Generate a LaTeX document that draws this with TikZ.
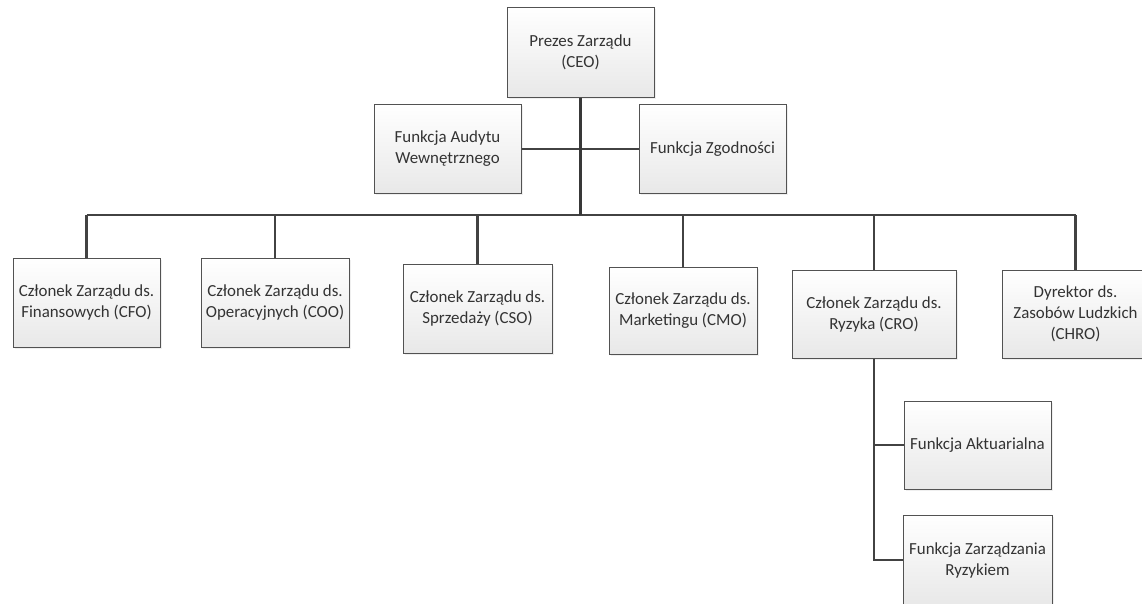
\documentclass[tikz,border=0pt]{standalone}
\usepackage{fontspec}
\setmainfont{Carlito}
\usetikzlibrary{shadows}
\begin{document}
\begin{tikzpicture}[x=1pt,y=-1pt,
  orgbox/.style={rectangle, draw=black!68, line width=1pt,
    top color=white, bottom color=black!9,
    drop shadow={opacity=0.12, shadow xshift=1.5pt, shadow yshift=-1.5pt},
    align=center, text=black!80, inner sep=2pt,
    font=\fontsize{16.9}{21}\selectfont},
  link/.style={draw=black!74, line width=2.3pt},
  trunk/.style={draw=black!78, line width=3pt}]
\useasboundingbox (0,0) rectangle (1142,603);
\fill[white] (0,0) rectangle (1142,603);
% boxes
\node[orgbox, minimum width=147pt, minimum height=90pt] (ceo) at (580.5,52) {Prezes Zarządu\\(CEO)};
\node[orgbox, minimum width=147pt, minimum height=89pt] (audit) at (447.5,149) {Funkcja Audytu\\Wewnętrznego};
\node[orgbox, minimum width=147pt, minimum height=89pt] (compl) at (712.5,149) {Funkcja Zgodności};
\node[orgbox, minimum width=147pt, minimum height=89pt] (cfo) at (86.5,302.5) {Członek Zarządu ds.\\Finansowych (CFO)};
\node[orgbox, minimum width=148pt, minimum height=89pt] (coo) at (275,302.5) {Członek Zarządu ds.\\Operacyjnych (COO)};
\node[orgbox, minimum width=149pt, minimum height=89pt] (cso) at (477.5,308.5) {Członek Zarządu ds.\\Sprzedaży (CSO)};
\node[orgbox, minimum width=148pt, minimum height=87pt] (cmo) at (683,310.5) {Członek Zarządu ds.\\Marketingu (CMO)};
\node[orgbox, minimum width=164pt, minimum height=88pt] (cro) at (874,314) {Członek Zarządu ds.\\Ryzyka (CRO)};
\node[orgbox, minimum width=147pt, minimum height=88pt] (chro) at (1075.5,314) {Dyrektor ds.\\Zasobów Ludzkich\\(CHRO)};
\node[orgbox, minimum width=147pt, minimum height=88pt] (akt) at (977.5,445) {Funkcja Aktuarialna};
\node[orgbox, minimum width=149pt, minimum height=90pt] (zarz) at (977.5,560) {Funkcja Zarządzania\\Ryzykiem};
% connectors
\coordinate (bus) at (581,215);
\draw[link] (audit.east) -- (compl.west);
\draw[link] (cfo.north |- bus) -- (chro.north |- bus);
\draw[trunk] (ceo.south) -- (ceo.south |- bus);
\foreach \n in {cfo,coo,cso,cmo,cro,chro}
  \draw[link] (\n.north |- bus) -- (\n.north);
\draw[link] (cro.south) -- (cro.south |- zarz.west) -- (zarz.west);
\draw[link] (cro.south |- akt.west) -- (akt.west);
\end{tikzpicture}
\end{document}
